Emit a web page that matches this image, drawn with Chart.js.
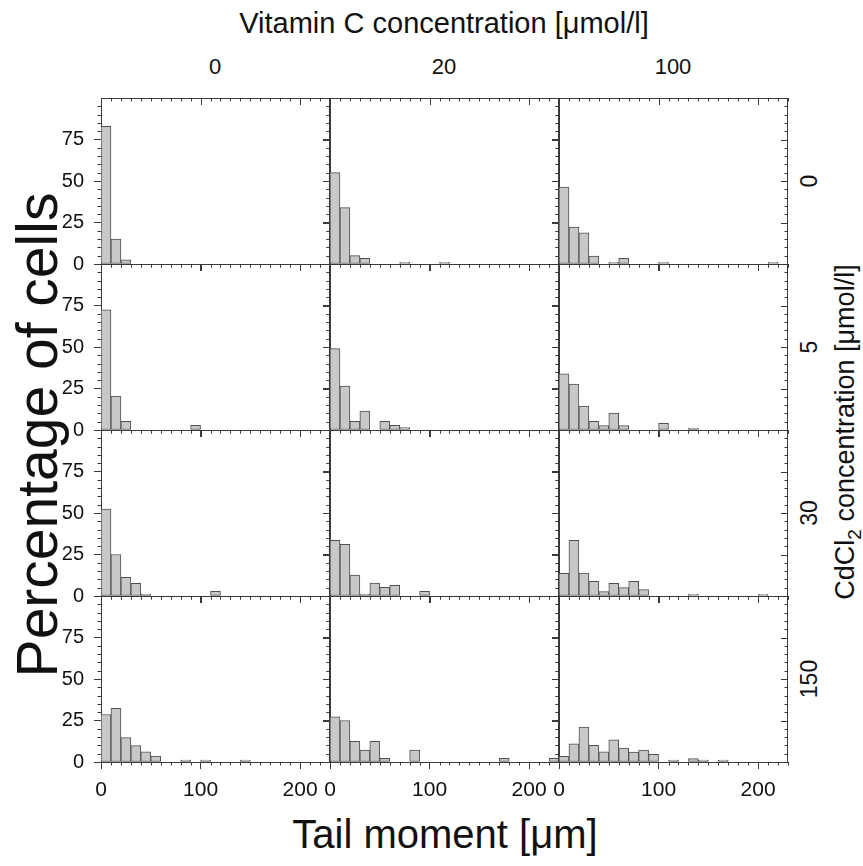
<!DOCTYPE html>
<html>
<head>
<meta charset="utf-8">
<script src="https://cdn.jsdelivr.net/npm/chart.js@4.4.1/dist/chart.umd.min.js"></script>
<style>
  html, body { margin: 0; padding: 0; background: #fff; }
  body { width: 863px; height: 866px; position: relative; overflow: hidden;
         font-family: "Liberation Sans", Arial, sans-serif; color: #111; }
  .lbl { position: absolute; white-space: nowrap; line-height: 1; }
  .rot { transform: translate(-50%, -50%) rotate(-90deg); }
  .ctr { transform: translate(-50%, -50%); }
  canvas { position: absolute; }
</style>
</head>
<body>

<div class="lbl ctr" style="left:444px; top:23px; font-size:29px;">Vitamin C concentration [&mu;mol/l]</div>
<div class="lbl ctr" style="left:215px; top:67px; font-size:22px;">0</div>
<div class="lbl ctr" style="left:444px; top:67px; font-size:22px;">20</div>
<div class="lbl ctr" style="left:673px; top:67px; font-size:22px;">100</div>

<div class="lbl rot" style="left:37px; top:435px; font-size:57px;">Percentage of cells</div>
<div class="lbl ctr" style="left:445px; top:834px; font-size:40px;">Tail moment [&mu;m]</div>

<div class="lbl rot" style="left:809px; top:181px; font-size:23px;">0</div>
<div class="lbl rot" style="left:809px; top:347px; font-size:23px;">5</div>
<div class="lbl rot" style="left:809px; top:513px; font-size:23px;">30</div>
<div class="lbl rot" style="left:809px; top:679px; font-size:23px;">150</div>
<div class="lbl rot" style="left:848px; top:432px; font-size:27px;">CdCl<sub style="font-size:19px;">2</sub> concentration [&mu;mol/l]</div>

<script>
// % of cells per 10 µm tail-moment bin (0-10, 10-20, ... 220-230)
// rows: CdCl2 0 / 5 / 30 / 150 µmol/l, columns: vitamin C 0 / 20 / 100 µmol/l
const cd0_vc0   = [83, 15, 2.5, 0, 0, 0, 0, 0, 0, 0, 0, 0, 0, 0, 0, 0, 0, 0, 0, 0, 0, 0, 0];
const cd0_vc20  = [55, 34, 5, 3.4, 0, 0, 0, 1, 0, 0, 0, 1, 0, 0, 0, 0, 0, 0, 0, 0, 0, 0, 0];
const cd0_vc100 = [46.4, 22.2, 18.8, 4.8, 0, 1, 3.4, 0, 0, 0, 1, 0, 0, 0, 0, 0, 0, 0, 0, 0, 0, 1, 0];
const cd5_vc0   = [72.4, 20.4, 5.2, 0, 0, 0, 0, 0, 0, 2.8, 0, 0, 0, 0, 0, 0, 0, 0, 0, 0, 0, 0, 0];
const cd5_vc20  = [49, 26.4, 5.2, 11.4, 0, 5.2, 2.8, 1.4, 0, 0, 0, 0, 0, 0, 0, 0, 0, 0, 0, 0, 0, 0, 0];
const cd5_vc100 = [33.8, 27.6, 14.4, 5.2, 2.6, 10.2, 2.6, 0, 0, 0, 4, 0, 0, 1.2, 0, 0, 0, 0, 0, 0, 0, 0, 0];
const cd30_vc0   = [52.4, 25, 11.2, 7.6, 1.2, 0, 0, 0, 0, 0, 0, 2.8, 0, 0, 0, 0, 0, 0, 0, 0, 0, 0, 0];
const cd30_vc20  = [33.6, 31.2, 12.6, 1.2, 7.8, 5.2, 6.4, 0, 0, 2.8, 0, 0, 0, 0, 0, 0, 0, 0, 0, 0, 0, 0, 0];
const cd30_vc100 = [13.6, 33.6, 13.8, 8.8, 2.6, 7.6, 5, 8.8, 3.8, 0, 0, 0, 0, 1, 0, 0, 0, 0, 0, 0, 1, 0, 0];
const cd150_vc0   = [28.6, 32.4, 14.7, 9.9, 6.2, 3.6, 0, 0, 1.2, 0, 1.2, 0, 0, 0, 1.2, 0, 0, 0, 0, 0, 0, 0, 0];
const cd150_vc20  = [27.2, 25, 12.5, 7.2, 12.5, 2.2, 0, 0, 7.2, 0, 0, 0, 0, 0, 0, 0, 0, 2.2, 0, 0, 0, 0, 2.2];
const cd150_vc100 = [3.4, 11, 21, 10, 6.2, 13.4, 8.4, 6, 7.2, 4.6, 0, 1.2, 0, 2, 1.2, 0, 1.2, 0, 0, 0, 0, 0, 0];

const binWidth = 10;
const xTicks = [0, 100, 200];
const yTicks = [0, 25, 50, 75];

const panels = [
  [cd0_vc0, cd0_vc20, cd0_vc100],
  [cd5_vc0, cd5_vc20, cd5_vc100],
  [cd30_vc0, cd30_vc20, cd30_vc100],
  [cd150_vc0, cd150_vc20, cd150_vc100]
];

// plot-area geometry of the grid
const colLeft = [101, 330, 559];
const rowTop = [98, 264, 430, 596];
const plotW = 229, plotH = 166;
const padL = 60, padR = 10, padT = 26, padB = 44;

const axisColor = '#3a3a3a';
const tickFont = '"Liberation Sans", Arial, sans-serif';

// minor ticks + mirrored top/right ticks, all pointing down / left like the original
const frameTicks = {
  id: 'frameTicks',
  afterDraw(chart) {
    const { ctx, chartArea: a, scales: { x, y } } = chart;
    ctx.save();
    ctx.strokeStyle = axisColor;
    ctx.lineWidth = 1;
    ctx.beginPath();
    ctx.moveTo(a.left, a.top + 0.5);
    ctx.lineTo(a.right, a.top + 0.5);
    ctx.moveTo(a.right - 0.5, a.top);
    ctx.lineTo(a.right - 0.5, a.bottom);
    for (let v = 0; v <= x.max; v += binWidth) {
      const px = Math.round(x.getPixelForValue(v)) + 0.5;
      const major = v % 100 === 0;
      const len = major ? 7 : 3.5;
      ctx.moveTo(px, a.top);
      ctx.lineTo(px, a.top + len);
      if (!major) {
        ctx.moveTo(px, a.bottom);
        ctx.lineTo(px, a.bottom + len);
      }
    }
    for (let v = 0; v <= y.max; v += 5) {
      const py = Math.round(y.getPixelForValue(v)) + 0.5;
      const major = v % 25 === 0;
      const len = major ? 7 : 3.5;
      ctx.moveTo(a.right, py);
      ctx.lineTo(a.right - len, py);
      if (!major) {
        ctx.moveTo(a.left, py);
        ctx.lineTo(a.left - len, py);
      }
    }
    ctx.stroke();
    ctx.restore();
  }
};

function makePanel(values, r, c) {
  const canvas = document.createElement('canvas');
  const w = padL + plotW + padR, h = padT + plotH + padB;
  canvas.width = w; canvas.height = h;
  canvas.style.width = w + 'px'; canvas.style.height = h + 'px';
  canvas.style.left = (colLeft[c] - padL) + 'px';
  canvas.style.top = (rowTop[r] - padT) + 'px';
  document.body.appendChild(canvas);

  const points = values.map((v, i) => ({ x: i * binWidth + binWidth / 2, y: v > 0 ? v : null }));

  new Chart(canvas.getContext('2d'), {
    type: 'bar',
    data: {
      datasets: [{
        data: points,
        backgroundColor: '#c8c8c8',
        borderColor: '#505050',
        borderWidth: 1,
        borderSkipped: false,
        barPercentage: 1,
        categoryPercentage: 1
      }]
    },
    options: {
      responsive: false,
      animation: false,
      events: [],
      layout: { padding: { left: 0, right: padR, top: padT, bottom: 0 } },
      plugins: { legend: { display: false }, tooltip: { enabled: false } },
      scales: {
        x: {
          type: 'linear',
          min: 0,
          max: 230,
          offset: false,
          afterBuildTicks: s => { s.ticks = xTicks.map(v => ({ value: v })); },
          afterFit: s => { s.height = padB; },
          grid: { offset: false, drawOnChartArea: false, drawTicks: true, tickLength: 7, color: axisColor },
          border: { display: true, color: axisColor, width: 1 },
          ticks: {
            display: r === 3,
            padding: 9,
            maxRotation: 0,
            autoSkip: false,
            color: '#111',
            font: { family: tickFont, size: 21 }
          }
        },
        y: {
          min: 0,
          max: 100,
          afterBuildTicks: s => { s.ticks = yTicks.map(v => ({ value: v })); },
          afterFit: s => { s.width = padL; },
          grid: { drawOnChartArea: false, drawTicks: true, tickLength: 7, color: axisColor },
          border: { display: true, color: axisColor, width: 1 },
          ticks: {
            display: c === 0,
            padding: 10,
            color: '#111',
            font: { family: tickFont, size: 20 }
          }
        }
      }
    },
    plugins: [frameTicks]
  });
}

panels.forEach((row, r) => row.forEach((vals, c) => makePanel(vals, r, c)));
</script>
</body>
</html>
